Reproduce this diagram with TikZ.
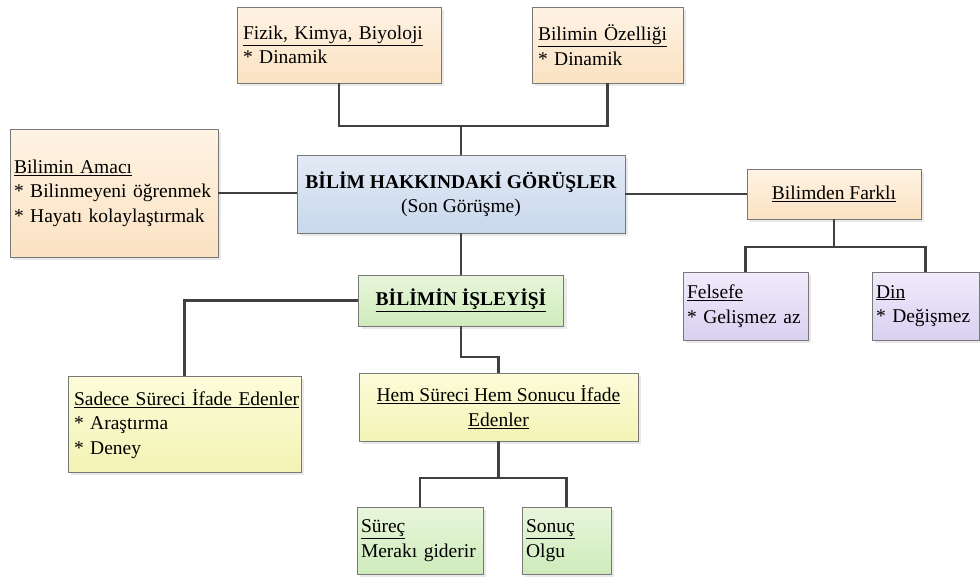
\documentclass[tikz,border=0pt]{standalone}
\usepackage{fontspec}
\setmainfont{Liberation Serif}
\usetikzlibrary{shadows}
\hyphenpenalty=10000
\exhyphenpenalty=10000

\definecolor{edge}{RGB}{120,120,120}
\definecolor{wire}{RGB}{64,64,64}
\definecolor{shade}{RGB}{212,212,212}
\definecolor{peachT}{RGB}{254,243,228}
\definecolor{peachB}{RGB}{251,226,194}
\definecolor{blueT}{RGB}{226,234,245}
\definecolor{blueB}{RGB}{201,216,236}
\definecolor{greenT}{RGB}{232,246,220}
\definecolor{greenB}{RGB}{206,235,186}
\definecolor{yellowT}{RGB}{252,252,218}
\definecolor{yellowB}{RGB}{243,243,181}
\definecolor{purpleT}{RGB}{241,235,251}
\definecolor{purpleB}{RGB}{218,208,241}

\tikzset{
  card/.style={draw=edge, line width=0.9pt, rectangle, inner xsep=6pt, inner ysep=0pt,
    font=\fontsize{19.5}{24.5}\selectfont,
    drop shadow={shadow xshift=3pt, shadow yshift=-3pt, fill=shade}},
  peach/.style={card, top color=peachT, bottom color=peachB},
  bluish/.style={card, top color=blueT, bottom color=blueB},
  greenish/.style={card, top color=greenT, bottom color=greenB},
  yellowish/.style={card, top color=yellowT, bottom color=yellowB},
  purplish/.style={card, top color=purpleT, bottom color=purpleB},
  sz/.style n args={2}{minimum width=#1pt, minimum height=#2pt},
  lefttext/.style={align=left, text width=#1pt},
  wiring/.style={draw=wire, line width=2.2pt}
}

\begin{document}
\begin{tikzpicture}[x=1pt, y=-1pt]
\useasboundingbox (0,0) rectangle (980,579);

% top row
\node[peach, sz={204}{76}, lefttext=192] (fizik) at (339,45)
  {\underline{Fizik, Kimya, Biyoloji}\\{*} Dinamik};
\node[peach, sz={151}{76}, lefttext=139] (ozellik) at (607.5,45)
  {\underline{Bilimin Özelliği}\\{*} Dinamik};

% middle row
\node[peach, sz={208}{128}, inner xsep=4pt, lefttext=200] (amac) at (114,193)
  {\underline{Bilimin Amacı}\\{*} Bilinmeyeni öğrenmek\\{*} Hayatı kolaylaştırmak};
\node[bluish, sz={328}{78}, align=center] (gorus) at (461,194)
  {\textbf{BİLİM HAKKINDAKİ GÖRÜŞLER}\\(Son Görüşme)};
\node[peach, sz={174}{50}, align=center] (farkli) at (834,194)
  {\underline{Bilimden Farklı}};

\node[purplish, sz={125}{68}, inner xsep=4pt, lefttext=117] (felsefe) at (745.5,306)
  {\underline{Felsefe}\\{*} Gelişmez az};
\node[purplish, sz={107}{68}, inner xsep=4pt, lefttext=99] (din) at (925.5,306)
  {\underline{Din}\\{*} Değişmez};

% lower part
\node[greenish, sz={205}{51}, align=center] (isleyis) at (461,300.5)
  {\textbf{\underline{BİLİMİN İŞLEYİŞİ}}};
\node[yellowish, sz={233}{96}, lefttext=221] (sadece) at (184.5,424)
  {\underline{Sadece Süreci İfade Edenler}\\{*} Araştırma\\{*} Deney};
\node[yellowish, sz={279}{68}, align=center] (hem) at (498.5,407)
  {\underline{Hem Süreci Hem Sonucu İfade}\\\underline{Edenler}};
\node[greenish, sz={126}{67}, inner xsep=4pt, lefttext=118] (surec) at (420,540.5)
  {\underline{Süreç}\\Merakı giderir};
\node[greenish, sz={89}{67}, inner xsep=4pt, lefttext=81] (sonuc) at (566.5,540.5)
  {\underline{Sonuç}\\Olgu};

% junction points of the tree connectors
\coordinate (topjoin) at (461,126);
\coordinate (farkjoin) at (834,247);
\coordinate (hemjoin) at (461,357);
\coordinate (altjoin) at (498.5,478);

% connectors
\draw[wiring] (fizik.south) |- (topjoin) -| (ozellik.south);
\draw[wiring] (topjoin) -- (gorus.north);
\draw[wiring] (amac.east) -- (amac.east -| gorus.west);
\draw[wiring] (gorus.east) -- (farkli.west);
\draw[wiring] (farkli.south) -- (farkjoin);
\draw[wiring] (felsefe.north) |- (farkjoin) -| (din.north);
\draw[wiring] (gorus.south) -- (isleyis.north);
\draw[wiring] (isleyis.west) -| (sadece.north);
\draw[wiring] (isleyis.south) -- (hemjoin) -| (hem.north);
\draw[wiring] (hem.south) -- (altjoin);
\draw[wiring] (surec.north) |- (altjoin) -| (sonuc.north);
\end{tikzpicture}
\end{document}
